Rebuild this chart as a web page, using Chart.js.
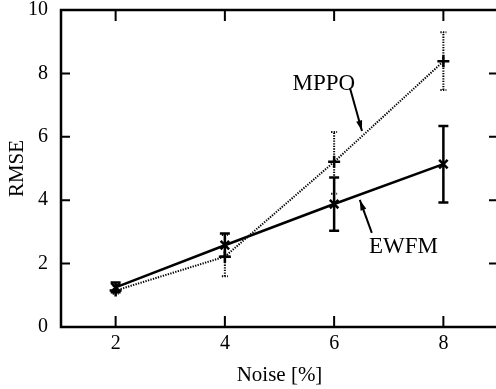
<!DOCTYPE html>
<html><head><meta charset="utf-8">
<script src="https://cdn.jsdelivr.net/npm/chart.js@4/dist/chart.umd.min.js"></script>
<style>html,body{margin:0;padding:0;background:#fff;overflow:hidden}#w{width:500px;height:389px}</style>
</head><body><div id="w"><canvas id="c"></canvas></div>
<script>
const noise = [2, 4, 6, 8];
const ewfm = [1.25, 2.58, 3.88, 5.14];
const ewfmLow = [1.1, 2.22, 3.04, 3.93];
const ewfmHigh = [1.4, 2.95, 4.72, 6.34];
const mppo = [1.15, 2.22, 5.21, 8.38];
const mppoLow = [1.05, 1.6, 4.2, 7.48];
const mppoHigh = [1.3, 2.9, 6.15, 9.3];
const xTicks = [2, 4, 6, 8];
const yTicks = [0, 2, 4, 6, 8, 10];
const labels = [
  {text: 'MPPO', x: 5.81, y: 7.68, ax1: 6.29, ay1: 7.54, ax2: 6.51, ay2: 6.18},
  {text: 'EWFM', x: 7.27, y: 2.54, ax1: 6.69, ay1: 2.97, ax2: 6.47, ay2: 4.01}
];
const FONT = '"Liberation Serif", "Times New Roman", serif';

const extras = {
  id: 'extras',
  beforeDatasetsDraw(chart) {
    const {ctx, scales: {x, y}} = chart;
    ctx.save();
    ctx.strokeStyle = '#000';
    ctx.lineWidth = 2.5; ctx.setLineDash([]);
    noise.forEach((n, i) => {
      const px = x.getPixelForValue(n), lo = y.getPixelForValue(ewfmLow[i]), hi = y.getPixelForValue(ewfmHigh[i]);
      ctx.beginPath();
      ctx.moveTo(px, lo); ctx.lineTo(px, hi);
      ctx.moveTo(px - 5, lo); ctx.lineTo(px + 5, lo);
      ctx.moveTo(px - 5, hi); ctx.lineTo(px + 5, hi);
      ctx.stroke();
    });
    ctx.lineWidth = 2; ctx.setLineDash([1.3, 1.3]);
    noise.forEach((n, i) => {
      const px = x.getPixelForValue(n), lo = y.getPixelForValue(mppoLow[i]), hi = y.getPixelForValue(mppoHigh[i]);
      ctx.beginPath();
      ctx.moveTo(px, lo); ctx.lineTo(px, hi);
      ctx.moveTo(px - 3, lo); ctx.lineTo(px + 3, lo);
      ctx.moveTo(px - 3, hi); ctx.lineTo(px + 3, hi);
      ctx.stroke();
    });
    ctx.restore();
  },
  afterDraw(chart) {
    const {ctx, chartArea: a, scales: {x, y}} = chart;
    ctx.save();
    ctx.strokeStyle = '#000'; ctx.fillStyle = '#000';
    ctx.setLineDash([]);
    ctx.lineWidth = 2.5;
    ctx.strokeRect(a.left, a.top, a.right - a.left, a.bottom - a.top);
    ctx.lineWidth = 2;
    ctx.beginPath();
    xTicks.forEach(v => {
      const px = x.getPixelForValue(v);
      ctx.moveTo(px, a.bottom); ctx.lineTo(px, a.bottom - 11);
      ctx.moveTo(px, a.top); ctx.lineTo(px, a.top + 11);
    });
    yTicks.forEach(v => {
      const py = y.getPixelForValue(v);
      ctx.moveTo(a.left, py); ctx.lineTo(a.left + 9, py);
      ctx.moveTo(a.right, py); ctx.lineTo(a.right - 9, py);
    });
    ctx.stroke();
    ctx.font = '23px ' + FONT;
    ctx.textAlign = 'center'; ctx.textBaseline = 'middle';
    labels.forEach(l => {
      ctx.fillText(l.text, x.getPixelForValue(l.x), y.getPixelForValue(l.y));
      const x1 = x.getPixelForValue(l.ax1), y1 = y.getPixelForValue(l.ay1);
      const x2 = x.getPixelForValue(l.ax2), y2 = y.getPixelForValue(l.ay2);
      ctx.lineWidth = 2;
      ctx.beginPath(); ctx.moveTo(x1, y1); ctx.lineTo(x2, y2); ctx.stroke();
      const ang = Math.atan2(y2 - y1, x2 - x1), L = 11, W = 0.28;
      ctx.beginPath();
      ctx.moveTo(x2, y2);
      ctx.lineTo(x2 - L * Math.cos(ang - W), y2 - L * Math.sin(ang - W));
      ctx.lineTo(x2 - L * Math.cos(ang + W), y2 - L * Math.sin(ang + W));
      ctx.closePath(); ctx.fill();
    });
    ctx.restore();
  }
};

function zeroPad(ax) { ax.paddingTop = 0; ax.paddingBottom = 0; ax.paddingLeft = 0; ax.paddingRight = 0; }

new Chart(document.getElementById('c'), {
  type: 'line',
  data: {
    datasets: [
      {label: 'EWFM', data: noise.map((n, i) => ({x: n, y: ewfm[i]})), borderColor: '#000', backgroundColor: '#000',
       borderWidth: 2.5, pointStyle: 'crossRot', pointRadius: 6, pointBorderWidth: 2.5, pointBorderColor: '#000', tension: 0},
      {label: 'MPPO', data: noise.map((n, i) => ({x: n, y: mppo[i]})), borderColor: '#000', backgroundColor: '#000',
       borderWidth: 2, borderDash: [1.3, 1.3], pointStyle: 'cross', pointRadius: 6, pointBorderWidth: 2.5, pointBorderColor: '#000', tension: 0}
    ]
  },
  options: {
    responsive: true, maintainAspectRatio: false, animation: false,
    layout: {autoPadding: false, padding: {top: 10, right: 2, left: 0, bottom: 0}},
    plugins: {legend: {display: false}, tooltip: {enabled: false}},
    scales: {
      x: {
        type: 'linear', min: 1, max: 9,
        afterBuildTicks: ax => { ax.ticks = xTicks.map(v => ({value: v})); },
        afterFit: ax => { ax.height = 62; zeroPad(ax); },
        grid: {display: false, drawTicks: false}, border: {display: false},
        ticks: {color: '#000', font: {family: FONT, size: 20}, padding: 5, maxRotation: 0},
        title: {display: true, text: 'Noise [%]', color: '#000', font: {family: FONT, size: 21}, padding: {top: 0, bottom: 1}}
      },
      y: {
        type: 'linear', min: 0, max: 10,
        afterBuildTicks: ax => { ax.ticks = yTicks.map(v => ({value: v})); },
        afterFit: ax => { ax.width = 61; zeroPad(ax); },
        grid: {display: false, drawTicks: false}, border: {display: false},
        ticks: {color: '#000', font: {family: FONT, size: 20}, padding: 13},
        title: {display: true, text: 'RMSE', color: '#000', font: {family: FONT, size: 21}, padding: {top: 5, bottom: 0}}
      }
    }
  },
  plugins: [extras]
});
</script></body></html>
